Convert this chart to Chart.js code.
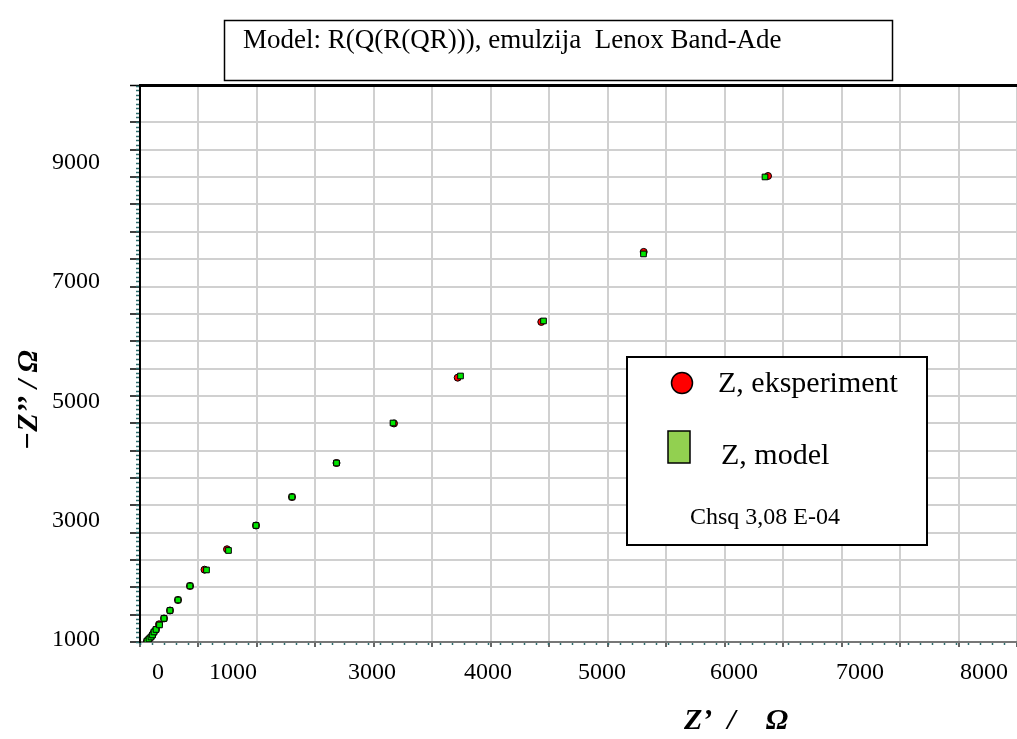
<!DOCTYPE html>
<html>
<head>
<meta charset="utf-8">
<script src="https://cdn.jsdelivr.net/npm/chart.js@4.4.1/dist/chart.umd.min.js"></script>
<style>
  html, body { margin: 0; padding: 0; background: #fff; }
  #wrap { width: 1017px; height: 739px; }
</style>
</head>
<body>
<div id="wrap"><canvas id="nyquist" width="1017" height="739"></canvas></div>
<script>
// Z' i -Z'' ocitano sa slike (Ω)
const zReExp = [70, 90, 110, 125, 140, 160, 190, 240, 300, 380, 500, 645, 870, 1160, 1520, 1965, 2540, 3177, 4013, 5037, 6280];
const zImExp = [983, 1017, 1050, 1084, 1134, 1176, 1263, 1361, 1495, 1671, 1906, 2179, 2521, 2920, 3398, 3968, 4631, 5399, 6333, 7508, 8781];
const zReMod = [70, 90, 110, 125, 140, 160, 195, 240, 300, 380, 500, 665, 885, 1160, 1520, 1965, 2530, 3205, 4035, 5035, 6250];
const zImMod = [983, 1017, 1050, 1084, 1134, 1176, 1252, 1361, 1495, 1671, 1906, 2174, 2501, 2920, 3398, 3968, 4639, 5427, 6350, 7474, 8765];

// oznake na osama, kao na originalu (x oznake nisu ravnomjerno rasporedjene)
const xTickText = ['0', '1000', '3000', '4000', '5000', '6000', '7000', '8000'];
const xTickAt = [180, 930, 2320, 3480, 4620, 5940, 7200, 8440];
const yTicks = [1000, 3000, 5000, 7000, 9000];

const titleText = 'Model: R(Q(R(QR))), emulzija  Lenox Band-Ade';
const legendExp = 'Z, eksperiment';
const legendMod = 'Z, model';
const chsqText = 'Chsq 3,08 E-04';

const xMax = 8770;
const yMin = 966, yMax = 10307;
const gridMax = 20.37;   // broj horizontalnih linija mreze
const serif = "'Liberation Serif', 'Times New Roman', serif";

// naslov u okviru, legenda i nazivi osa
const extras = {
  id: 'extras',
  afterDraw(chart) {
    const ctx = chart.ctx;
    ctx.save();
    ctx.strokeStyle = '#000';
    ctx.fillStyle = '#000';
    ctx.textBaseline = 'middle';

    // okvir naslova
    ctx.lineWidth = 1.5;
    ctx.strokeRect(224.5, 20.5, 668, 60);
    ctx.font = `27px ${serif}`;
    ctx.textAlign = 'left';
    ctx.fillText(titleText, 243, 41);

    // legenda
    ctx.fillStyle = '#fff';
    ctx.fillRect(627, 357, 300, 188);
    ctx.lineWidth = 2;
    ctx.strokeRect(627, 357, 300, 188);

    ctx.beginPath();
    ctx.arc(682, 383, 10.5, 0, Math.PI * 2);
    ctx.fillStyle = '#ff0000';
    ctx.fill();
    ctx.lineWidth = 1.5;
    ctx.stroke();

    ctx.fillStyle = '#92d050';
    ctx.fillRect(668, 431, 22, 32);
    ctx.strokeRect(668, 431, 22, 32);

    ctx.fillStyle = '#000';
    ctx.font = `30px ${serif}`;
    ctx.fillText(legendExp, 718, 384);
    ctx.fillText(legendMod, 721, 456);
    ctx.font = `24px ${serif}`;
    ctx.fillText(chsqText, 690, 518);

    // nazivi osa
    ctx.font = `bold italic 30px ${serif}`;
    ctx.fillText('Z’  /    Ω', 684, 721);
    ctx.textAlign = 'center';
    ctx.translate(29, 400);
    ctx.rotate(-Math.PI / 2);
    ctx.fillText('−Z’’ / Ω', 0, 0);
    ctx.restore();
  }
};

const tickFont = { family: serif, size: 24 };

new Chart(document.getElementById('nyquist'), {
  type: 'scatter',
  data: {
    datasets: [
      {
        label: legendMod,
        data: zReMod.map((v, i) => ({ x: v, y: zImMod[i] })),
        pointStyle: 'rect',
        pointRadius: 4,
        backgroundColor: '#00e600',
        borderColor: '#000',
        borderWidth: 1,
        order: 1
      },
      {
        label: legendExp,
        data: zReExp.map((v, i) => ({ x: v, y: zImExp[i] })),
        pointStyle: 'circle',
        pointRadius: 3.5,
        backgroundColor: '#ff0000',
        borderColor: '#000',
        borderWidth: 1,
        order: 2
      }
    ]
  },
  options: {
    responsive: false,
    animation: false,
    layout: { autoPadding: false, padding: { top: 85, right: 0, bottom: 0, left: 0 } },
    plugins: { legend: { display: false }, tooltip: { enabled: false } },
    scales: {
      x: {
        type: 'linear', position: 'bottom', min: 0, max: xMax,
        afterBuildTicks: s => { s.ticks = xTickAt.map(v => ({ value: v })); },
        ticks: { callback: (v, i) => xTickText[i], font: tickFont, color: '#000', padding: 16, maxRotation: 0, autoSkip: false },
        grid: { display: false, drawTicks: false },
        border: { display: true, color: '#777', width: 2 },
        afterFit: s => { s.height = 97; s.paddingLeft = 0; s.paddingRight = 0; }
      },
      y: {
        type: 'linear', position: 'left', min: yMin, max: yMax,
        afterBuildTicks: s => { s.ticks = yTicks.map(v => ({ value: v })); },
        ticks: { callback: v => String(v), font: tickFont, color: '#000', padding: 40, autoSkip: false },
        grid: { display: false, drawTicks: false },
        border: { display: true, color: '#000', width: 2 },
        afterFit: s => { s.width = 140; s.paddingTop = 0; s.paddingBottom = 0; }
      },
      // mreza i glavne crtice
      xg: {
        type: 'linear', axis: 'x', position: { y: yMin }, min: 0, max: xMax,
        ticks: { display: false, stepSize: 600, includeBounds: false },
        grid: { color: '#d0d0d0', lineWidth: 2, tickLength: 5, tickColor: '#333', tickWidth: 1.5 },
        border: { display: false }
      },
      yg: {
        type: 'linear', axis: 'y', position: { x: 0 }, min: 0, max: gridMax,
        ticks: { display: false, stepSize: 1 },
        grid: {
          color: c => (c.tick && c.tick.value > gridMax - 0.01 ? '#000' : '#d0d0d0'),
          lineWidth: c => (c.tick && c.tick.value > gridMax - 0.01 ? 3 : 2),
          tickLength: 10, tickColor: '#000', tickWidth: 1.5
        },
        border: { display: false }
      },
      // sitne crtice
      xm: {
        type: 'linear', axis: 'x', position: { y: yMin }, min: 0, max: xMax,
        ticks: { display: false, stepSize: 120, includeBounds: false },
        grid: { drawOnChartArea: false, tickLength: 3, tickColor: '#2f6f6f', tickWidth: 1.5 },
        border: { display: false }
      },
      ym: {
        type: 'linear', axis: 'y', position: { x: 0 }, min: 0, max: gridMax * 6,
        ticks: { display: false, stepSize: 1, includeBounds: false },
        grid: { drawOnChartArea: false, tickLength: 4, tickColor: '#2f6f6f', tickWidth: 1.5 },
        border: { display: false }
      }
    }
  },
  plugins: [extras]
});
</script>
</body>
</html>
